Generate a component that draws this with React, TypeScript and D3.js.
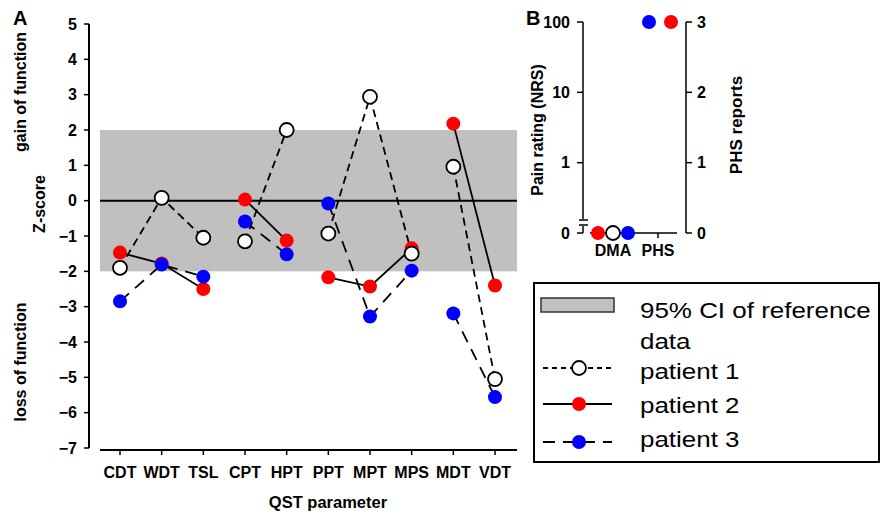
import React from "react";
import * as d3 from "d3";

const categories = ["CDT", "WDT", "TSL", "CPT", "HPT", "PPT", "MPT", "MPS", "MDT", "VDT"];
const groups = [[0, 1, 2], [3, 4], [5, 6, 7], [8, 9]];
const patient1 = [-1.9, 0.08, -1.05, -1.15, 2.0, -0.93, 2.94, -1.5, 0.96, -5.05];
const patient2 = [-1.47, -1.78, -2.5, 0.03, -1.13, -2.17, -2.43, -1.35, 2.18, -2.4];
const patient3 = [-2.85, -1.81, -2.15, -0.59, -1.52, -0.08, -3.28, -1.98, -3.19, -5.56];
const yTicksA = [5, 4, 3, 2, 1, 0, -1, -2, -3, -4, -5, -6, -7];
const ciBand = [-2, 2];

const bCategories = ["DMA", "PHS"];
const dmaRating = [0, 0, 0]; // patient 1,2,3 pain rating (NRS)
const phsReports = [null, 3, 3]; // patient 1,2,3 PHS reports
const leftTicksB = [100, 10, 1];
const rightTicksB = [0, 1, 2, 3];

const legendLabels = ["95% CI of reference", "data", "patient 1", "patient 2", "patient 3"];

const FONT = "'Liberation Sans', Arial, sans-serif";
const minus = (v: number) => (v < 0 ? "\u2212" + Math.abs(v) : String(v));

const seriesStyle = [
  { fill: "#ffffff", stroke: "#000", dash: "8,5" },
  { fill: "#ff0000", stroke: "none", dash: null },
  { fill: "#0000ff", stroke: "none", dash: "12,8" },
];

export default function App() {
  const y = d3.scaleLinear().domain([-7, 5]).range([448, 24]);
  const x = d3.scalePoint<string>().domain(categories).range([120, 495]);
  const series = [patient1, patient2, patient3];
  const line = d3
    .line<[number, number]>()
    .x((d) => d[0])
    .y((d) => d[1]);

  // panel B scales
  const yB = d3.scaleLinear().domain([0, 3]).range([233, 22]);
  const yLog = d3.scaleLog().domain([1, 100]).range([yB(1), yB(3)]);
  const xB = d3.scalePoint<string>().domain(bCategories).range([613, 658]);
  const dmaOffset = [0, -15, 15];
  const phsOffset = [0, 13, -9];

  const drawOrder = [1, 0, 2];

  return (
    <svg width={884} height={515} style={{ position: "absolute", left: 0, top: 0, background: "#fff" }} fontFamily={FONT}>
      {/* Panel A */}
      <text x={13} y={25} fontSize={20} fontWeight="bold">A</text>
      <rect x={100} y={y(ciBand[1])} width={417} height={y(ciBand[0]) - y(ciBand[1])} fill="#c0c0c0" />
      <line x1={100} x2={517} y1={y(0)} y2={y(0)} stroke="#000" strokeWidth={2} />
      {/* y axis */}
      <line x1={89} x2={89} y1={y(5)} y2={y(-7)} stroke="#000" strokeWidth={2} />
      {yTicksA.map((t) => (
        <g key={t}>
          <line x1={84} x2={89} y1={y(t)} y2={y(t)} stroke="#000" strokeWidth={1.5} />
          <text x={77} y={y(t)} dy="0.35em" textAnchor="end" fontSize={16} fontWeight="bold">
            {minus(t)}
          </text>
        </g>
      ))}
      {/* x axis */}
      <line x1={100} x2={517} y1={450} y2={450} stroke="#000" strokeWidth={2} />
      {categories.map((c) => (
        <g key={c}>
          <line x1={x(c)} x2={x(c)} y1={450} y2={455} stroke="#000" strokeWidth={1.5} />
          <text x={x(c)} y={478} textAnchor="middle" fontSize={16} fontWeight="bold">{c}</text>
        </g>
      ))}
      <text x={328} y={508} textAnchor="middle" fontSize={16.5} fontWeight="bold">QST parameter</text>
      <text transform="translate(26,92) rotate(-90)" textAnchor="middle" fontSize={16} fontWeight="bold">gain of function</text>
      <text transform="translate(45,204) rotate(-90)" textAnchor="middle" fontSize={16} fontWeight="bold">Z-score</text>
      <text transform="translate(26,362) rotate(-90)" textAnchor="middle" fontSize={16} fontWeight="bold">loss of function</text>

      {/* lines */}
      {drawOrder.map((si) =>
        groups.map((g, gi) => (
          <path
            key={`l${si}-${gi}`}
            d={line(g.map((i) => [x(categories[i])!, y(series[si][i])]))!}
            fill="none"
            stroke="#000"
            strokeWidth={1.8}
            strokeDasharray={seriesStyle[si].dash ?? undefined}
          />
        ))
      )}
      {/* points */}
      {drawOrder.map((si) =>
        series[si].map((v, i) => (
          <circle
            key={`p${si}-${i}`}
            cx={x(categories[i])}
            cy={y(v)}
            r={7}
            fill={seriesStyle[si].fill}
            stroke={seriesStyle[si].stroke}
            strokeWidth={1.8}
          />
        ))
      )}

      {/* Panel B */}
      <text x={526} y={25} fontSize={20} fontWeight="bold">B</text>
      <line x1={583} x2={583} y1={yB(3)} y2={219} stroke="#000" strokeWidth={1.5} />
      <line x1={583} x2={583} y1={226} y2={yB(0)} stroke="#000" strokeWidth={1.5} />
      <line x1={579} x2={588} y1={220} y2={220} stroke="#000" strokeWidth={1.5} />
      <line x1={579} x2={588} y1={225} y2={225} stroke="#000" strokeWidth={1.5} />
      {leftTicksB.map((t) => (
        <g key={t}>
          <line x1={577} x2={583} y1={yLog(t)} y2={yLog(t)} stroke="#000" strokeWidth={1.5} />
          <text x={570} y={yLog(t)} dy="0.35em" textAnchor="end" fontSize={16} fontWeight="bold">{t}</text>
        </g>
      ))}
      <line x1={577} x2={583} y1={yB(0)} y2={yB(0)} stroke="#000" strokeWidth={1.5} />
      <text x={570} y={yB(0)} dy="0.35em" textAnchor="end" fontSize={16} fontWeight="bold">0</text>

      <line x1={686} x2={686} y1={yB(3)} y2={yB(0)} stroke="#000" strokeWidth={1.5} />
      {rightTicksB.map((t) => (
        <g key={t}>
          <line x1={686} x2={692} y1={yB(t)} y2={yB(t)} stroke="#000" strokeWidth={1.5} />
          <text x={697} y={yB(t)} dy="0.35em" fontSize={16} fontWeight="bold">{t}</text>
        </g>
      ))}
      <line x1={590} x2={677} y1={yB(0)} y2={yB(0)} stroke="#000" strokeWidth={1.5} />
      <line x1={xB("PHS")} x2={xB("PHS")} y1={yB(0)} y2={yB(0) + 5} stroke="#000" strokeWidth={1.5} />
      {bCategories.map((c) => (
        <text key={c} x={xB(c)} y={256} textAnchor="middle" fontSize={16} fontWeight="bold">{c}</text>
      ))}
      <text transform="translate(543,130) rotate(-90)" textAnchor="middle" fontSize={16} fontWeight="bold">Pain rating (NRS)</text>
      <text transform="translate(742,125) rotate(-90)" textAnchor="middle" fontSize={17} fontWeight="bold">PHS reports</text>
      {drawOrder.map((si) => {
        const v = dmaRating[si];
        return (
          <circle key={`dma${si}`} cx={xB("DMA")! + dmaOffset[si]} cy={v > 0 ? yLog(v) : yB(0)} r={7}
            fill={seriesStyle[si].fill} stroke={seriesStyle[si].stroke} strokeWidth={1.8} />
        );
      })}
      {drawOrder.map((si) => {
        const v = phsReports[si];
        if (v === null) return null;
        return (
          <circle key={`phs${si}`} cx={xB("PHS")! + phsOffset[si]} cy={yB(v)} r={7}
            fill={seriesStyle[si].fill} stroke={seriesStyle[si].stroke} strokeWidth={1.8} />
        );
      })}

      {/* Legend */}
      <rect x={534} y={283} width={345} height={179} fill="#fff" stroke="#000" strokeWidth={2} />
      <rect x={541} y={298} width={73} height={14} fill="#c0c0c0" stroke="#333" strokeWidth={1.5} />
      <text transform="translate(640,318) scale(1.18,1)" fontSize={22}>{legendLabels[0]}</text>
      <text transform="translate(640,349) scale(1.18,1)" fontSize={22}>{legendLabels[1]}</text>
      {[0, 1, 2].map((si) => {
        const ly = [368, 404, 442][si];
        const ty = [379, 413, 447][si];
        return (
          <g key={`leg${si}`}>
            <line x1={543} x2={612} y1={ly} y2={ly} stroke="#000" strokeWidth={1.8}
              strokeDasharray={si === 0 ? "5,4" : seriesStyle[si].dash ?? undefined} />
            <circle cx={579} cy={ly} r={7} fill={seriesStyle[si].fill} stroke={seriesStyle[si].stroke} strokeWidth={1.8} />
            <text transform={`translate(640,${ty}) scale(1.18,1)`} fontSize={22}>{legendLabels[si + 2]}</text>
          </g>
        );
      })}
    </svg>
  );
}
